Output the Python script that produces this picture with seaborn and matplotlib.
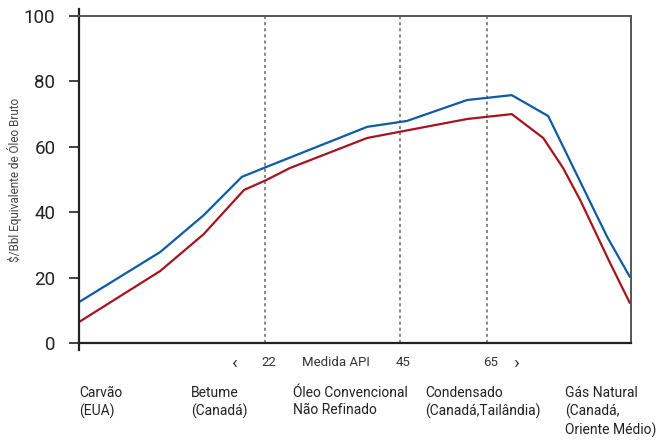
import pandas as pd
import matplotlib.pyplot as plt
import seaborn as sns

# x on a 0-100 position scale across the plot width
blue_x = [0, 14.7, 22.6, 29.5, 33.9, 52.2, 59.4, 70.3, 78.4, 85.0, 95.7, 99.8]
blue_y = [12.5, 27.8, 39.1, 50.8, 53.8, 66.1, 67.9, 74.3, 75.8, 69.4, 32.4, 20.2]
red_x = [0, 14.7, 22.6, 29.9, 33.9, 38.2, 52.2, 70.3, 78.4, 84.1, 87.7, 90.8, 96.2, 99.8]
red_y = [6.4, 22.0, 33.3, 46.8, 49.8, 53.5, 62.7, 68.5, 70.0, 62.7, 53.5, 43.7, 24.5, 12.2]
api_x = [33.7, 58.2, 73.9]
api_labels = ['22', '45', '65']
cat_x = [0, 20.3, 38.8, 62.7, 88.0]
cat_labels = ['Carvão\n(EUA)', 'Betume\n(Canadá)', 'Óleo Convencional\nNão Refinado',
              'Condensado\n(Canadá,Tailândia)', 'Gás Natural\n(Canadá,\nOriente Médio)']

sns.set_style('white')
plt.rcParams['font.family'] = ['Roboto', 'DejaVu Sans']

fig = plt.figure(figsize=(6.61, 4.40), dpi=100)
ax = fig.add_axes([0.1195, 0.2205, 0.8351, 0.7431])

df_b = pd.DataFrame({'x': blue_x, 'y': blue_y})
df_r = pd.DataFrame({'x': red_x, 'y': red_y})
sns.lineplot(data=df_b, x='x', y='y', color='#0d5ba6', lw=1.6, ax=ax, sort=False)
sns.lineplot(data=df_r, x='x', y='y', color='#a5141f', lw=1.6, ax=ax, sort=False)

for v in api_x:
    ax.axvline(v, color='#666666', ls=(0, (2, 2)), lw=1.1, zorder=0)

ax.set_xlim(0, 100)
ax.set_ylim(0, 100)
ax.set_xticks([])
ax.set_yticks([0, 20, 40, 60, 80, 100])
ax.tick_params(axis='y', direction='out', length=7, width=1.3, color='#333333',
               pad=10, labelsize=13.5, labelcolor='#222222', left=True)
ax.set_xlabel('')
ax.set_ylabel('$/Bbl Equivalente de Óleo Bruto', fontsize=8.5, color='#444444')
ax.yaxis.set_label_coords(-0.104, 0.5)

for s in ['left', 'bottom']:
    ax.spines[s].set_color('#222222')
    ax.spines[s].set_linewidth(1.6)
for s in ['top', 'right']:
    ax.spines[s].set_color('#555555')
    ax.spines[s].set_linewidth(1.4)
ax.spines['left'].set_bounds(-2, 102)

# API gravity scale under the axis
ty = -6
ax.text(28.3, ty, '‹', ha='center', va='center', fontsize=14, color='#333333', clip_on=False)
for v, lab in zip(api_x, api_labels):
    ax.text(v + 0.6, ty, lab, ha='center', va='center', fontsize=9.5, color='#333333', clip_on=False)
ax.text(46.5, ty, 'Medida API', ha='center', va='center', fontsize=9.5, color='#333333', clip_on=False)
ax.text(79.2, ty, '›', ha='center', va='center', fontsize=14, color='#333333', clip_on=False)

for v, lab in zip(cat_x, cat_labels):
    ax.text(v, -13.2, lab, ha='left', va='top', fontsize=10, color='#222222',
            linespacing=1.3, clip_on=False)

fig.savefig('out.png', dpi=100)
